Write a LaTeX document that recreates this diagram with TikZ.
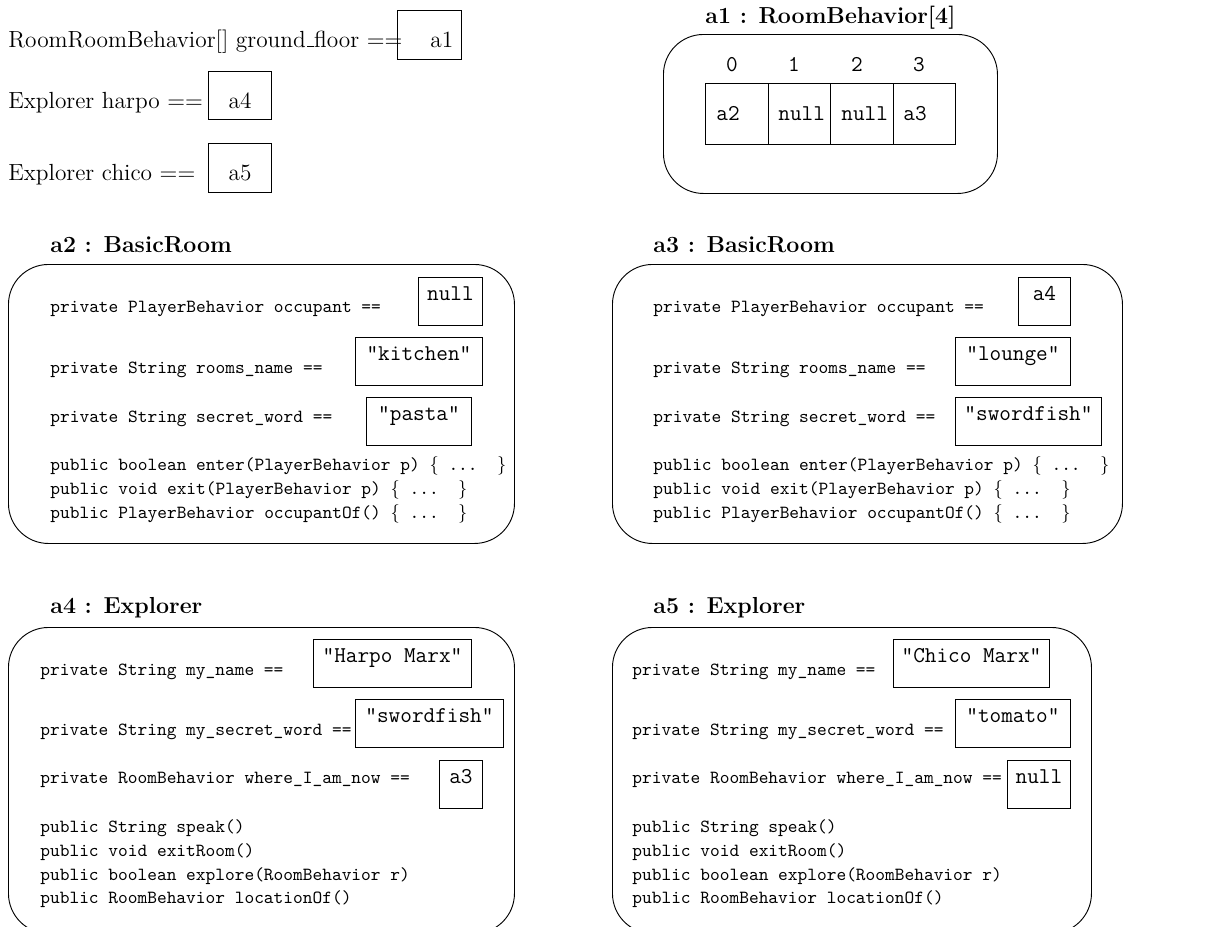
\documentclass[tikz,border=0pt]{standalone}
\newdimen\pu
\pu=0.54pt
\tikzset{
  every node/.style={inner sep=0pt},
  srf/.style={anchor=base west, font=\fontsize{12.6}{15}\selectfont},
  ttl/.style={anchor=base west, font=\fontsize{12.5}{15}\selectfont\bfseries},
  fld/.style={anchor=base west, font=\fontsize{10}{12}\selectfont\ttfamily},
  vtx/.style={font=\fontsize{12.2}{14}\selectfont\ttfamily},
  vbox/.style={vtx, draw, line width=0.5pt, anchor=north west, text height=23\pu, text depth=25\pu},
  rbox/.style={draw, line width=0.5pt, anchor=north west},
  obox/.style={draw, line width=0.5pt, rounded corners=40\pu, anchor=north west},
  acell/.style={draw, line width=0.5pt, anchor=north west, minimum width=62.5\pu, minimum height=61\pu},
}
% method body placeholder and a low-rule underscore
\newcommand{\mbody}{$\{$ ...\ \ $\}$}
\newcommand{\lowbar}{\leavevmode\kern.06em\vbox{\hrule width.3em}}
\begin{document}
\begin{tikzpicture}[x=0.54pt, y=-0.54pt]
\useasboundingbox (0,0) rectangle (1206,926);
\clip (0,0) rectangle (1206,926);

% references held by local variables
\node[srf] (gfl) at (8,47) {RoomRoomBehavior[] ground\lowbar floor ==};
\node[rbox, minimum width=64\pu, minimum height=49\pu] (gfb) at (397,10) {};
\node[srf] (gfv) at (430,47) {a1};
\node[srf] (hpl) at (8,108) {Explorer harpo ==};
\node[rbox, minimum width=63\pu, minimum height=48\pu] (hpb) at (208,71) {};
\node[srf, anchor=base] (hpv) at (240,108) {a4};
\node[srf] (chl) at (8,180) {Explorer chico ==};
\node[rbox, minimum width=63\pu, minimum height=49\pu] (chb) at (208,143) {};
\node[srf, anchor=base] (chv) at (240,180) {a5};

% a1 : the array object
\node[ttl] (t1) at (705,23) {a1 : RoomBehavior[4]};
\node[obox, minimum width=334\pu, minimum height=159\pu] (o1) at (663,34) {};
\node[acell] (c0) at (705,83) {};
\node[acell] (c1) at (767.5,83) {};
\node[acell] (c2) at (830,83) {};
\node[acell] (c3) at (892.5,83) {};
\node[vtx, anchor=base] (i0) at (732,71) {0};
\node[vtx, anchor=base] (i1) at (794,71) {1};
\node[vtx, anchor=base] (i2) at (857,71) {2};
\node[vtx, anchor=base] (i3) at (919,71) {3};
\node[vtx, anchor=base west] (v0) at (716,120) {a2};
\node[vtx, anchor=base west] (v1) at (778,120) {null};
\node[vtx, anchor=base west] (v2) at (841,120) {null};
\node[vtx, anchor=base west] (v3) at (903,120) {a3};

% a2 : BasicRoom
\node[ttl] (t2) at (50,252) {a2 : BasicRoom};
\node[obox, minimum width=506\pu, minimum height=279\pu] (o2) at (8,264) {};
\node[fld] (f21) at (50,312) {private PlayerBehavior occupant ==};
\node[vbox, minimum width=64\pu] (b21) at (418,277) {null};
\node[fld] (f22) at (50,373) {private String rooms\_name ==};
\node[vbox, minimum width=127\pu] (b22) at (355,337) {"kitchen"};
\node[fld] (f23) at (50,422) {private String secret\_word ==};
\node[vbox, minimum width=105\pu] (b23) at (366,397) {"pasta"};
\node[fld] (m21) at (50,470) {public boolean enter(PlayerBehavior p) \mbody};
\node[fld] (m22) at (50,494) {public void exit(PlayerBehavior p) \mbody};
\node[fld] (m23) at (50,518) {public PlayerBehavior occupantOf() \mbody};

% a3 : BasicRoom
\node[ttl] (t3) at (653,252) {a3 : BasicRoom};
\node[obox, minimum width=510\pu, minimum height=279\pu] (o3) at (612,264) {};
\node[fld] (f31) at (653,312) {private PlayerBehavior occupant ==};
\node[vbox, minimum width=52\pu] (b31) at (1018,277) {a4};
\node[fld] (f32) at (653,373) {private String rooms\_name ==};
\node[vbox, minimum width=115\pu] (b32) at (955,337) {"lounge"};
\node[fld] (f33) at (653,422) {private String secret\_word ==};
\node[vbox, minimum width=146\pu] (b33) at (955,397) {"swordfish"};
\node[fld] (m31) at (653,470) {public boolean enter(PlayerBehavior p) \mbody};
\node[fld] (m32) at (653,494) {public void exit(PlayerBehavior p) \mbody};
\node[fld] (m33) at (653,518) {public PlayerBehavior occupantOf() \mbody};

% a4 : Explorer
\node[ttl] (t4) at (50,613) {a4 : Explorer};
\node[obox, minimum width=506\pu, minimum height=306\pu] (o4) at (8,627) {};
\node[fld] (f41) at (40,675) {private String my\_name ==};
\node[vbox, minimum width=158\pu] (b41) at (313,639) {"Harpo Marx"};
\node[fld] (f42) at (40,735) {private String my\_secret\_word ==};
\node[vbox, minimum width=148\pu] (b42) at (355,699) {"swordfish"};
\node[fld] (f43) at (40,783) {private RoomBehavior where\_I\_am\_now ==};
\node[vbox, minimum width=43\pu] (b43) at (439,760) {a3};
\node[fld] (m41) at (40,832) {public String speak()};
\node[fld] (m42) at (40,856) {public void exitRoom()};
\node[fld] (m43) at (40,880) {public boolean explore(RoomBehavior r)};
\node[fld] (m44) at (40,903) {public RoomBehavior locationOf()};

% a5 : Explorer
\node[ttl] (t5) at (653,613) {a5 : Explorer};
\node[obox, minimum width=479\pu, minimum height=306\pu] (o5) at (612,627) {};
\node[fld] (f51) at (632,675) {private String my\_name ==};
\node[vbox, minimum width=156\pu] (b51) at (893,639) {"Chico Marx"};
\node[fld] (f52) at (632,735) {private String my\_secret\_word ==};
\node[vbox, minimum width=115\pu] (b52) at (955,699) {"tomato"};
\node[fld] (f53) at (632,783) {private RoomBehavior where\_I\_am\_now ==};
\node[vbox, minimum width=63\pu] (b53) at (1007,760) {null};
\node[fld] (m51) at (632,832) {public String speak()};
\node[fld] (m52) at (632,856) {public void exitRoom()};
\node[fld] (m53) at (632,880) {public boolean explore(RoomBehavior r)};
\node[fld] (m54) at (632,903) {public RoomBehavior locationOf()};
\end{tikzpicture}
\end{document}
